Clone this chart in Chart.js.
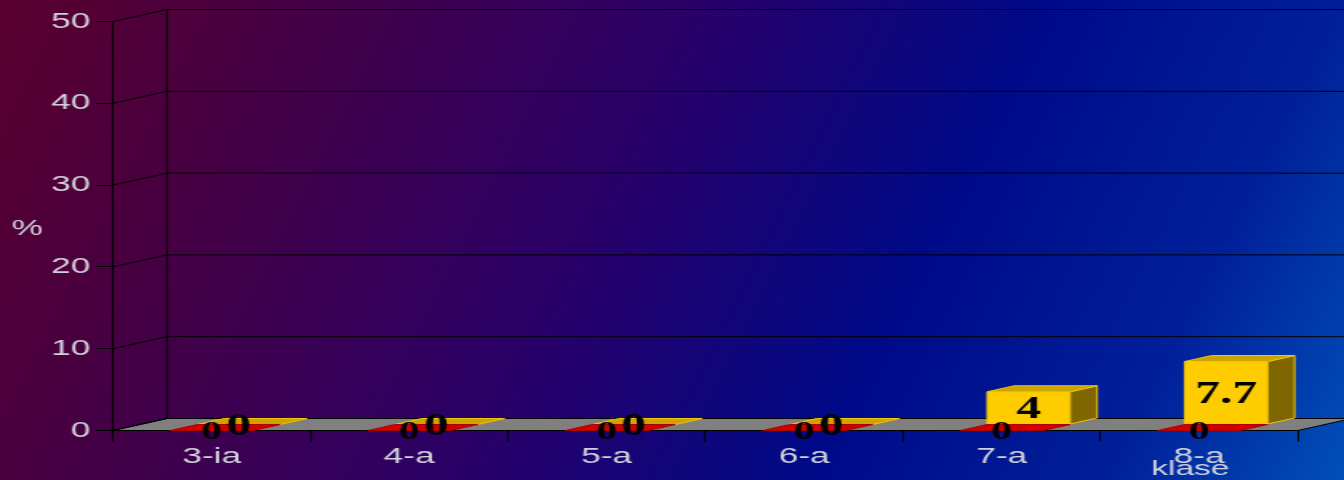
<!DOCTYPE html>
<html>
<head>
<meta charset="utf-8">
<script src="https://cdn.jsdelivr.net/npm/chart.js@4/dist/chart.umd.min.js"></script>
<style>
	html, body { margin: 0; padding: 0; overflow: hidden; background: #000; }
	#wrap { width: 840px; height: 480px; transform: scaleX(1.6); transform-origin: 0 0; }
</style>
</head>
<body>
<div id="wrap"><canvas id="chart" width="840" height="480"></canvas></div>
<script>
	// Data
	const categories = [ '3-ia', '4-a', '5-a', '6-a', '7-a', '8-a' ];
	const seriesFront = [ 0, 0, 0, 0, 0, 0 ];
	const seriesBack = [ 0, 0, 0, 0, 4, 7.7 ];
	const yMin = 0;
	const yMax = 50;
	const yStep = 10;
	const yTitle = '%';
	const xTitle = 'klase';

	// 3D depth of the whole plot (front plane -> back wall)
	const DX = 33.75;
	const DY = -12;

	const palettes = [
		{ front: '#ff0000', top: '#d00000', side: '#800000', edge: '#b00000', label: 26 },
		{ front: '#ffcc00', top: '#cca300', side: '#806600', edge: '#f0c800', label: 31 },
	];

	function poly( ctx, pts, fill, stroke ) {
		ctx.beginPath();
		ctx.moveTo( pts[ 0 ][ 0 ], pts[ 0 ][ 1 ] );
		for ( let i = 1; i < pts.length; i++ ) {
			ctx.lineTo( pts[ i ][ 0 ], pts[ i ][ 1 ] );
		}
		ctx.closePath();
		if ( fill ) {
			ctx.fillStyle = fill;
			ctx.fill();
		}
		if ( stroke ) {
			ctx.strokeStyle = stroke;
			ctx.stroke();
		}
	}

	// Background, back wall, side wall and floor
	const scenePlugin = {
		id: 'scene',
		beforeDraw( chart ) {
			const { ctx, chartArea: a, scales } = chart;
			const w = chart.width;
			const h = chart.height;
			ctx.save();
			const g = ctx.createLinearGradient( 0, 0, 902, 282 );
			g.addColorStop( 0, '#5a0030' );
			g.addColorStop( 0.15, '#4a003f' );
			g.addColorStop( 0.44, '#2a0068' );
			g.addColorStop( 0.66, '#000a88' );
			g.addColorStop( 0.85, '#00209a' );
			g.addColorStop( 1, '#0050b8' );
			ctx.fillStyle = g;
			ctx.fillRect( 0, 0, w, h );

			// floor
			ctx.lineWidth = 1;
			poly(
				ctx,
				[
					[ a.left, a.bottom ],
					[ a.right, a.bottom ],
					[ a.right + DX, a.bottom + DY ],
					[ a.left + DX, a.bottom + DY ],
				],
				'#808080',
				'#000'
			);

			// back wall grid + side wall diagonals
			const y = scales.y;
			ctx.strokeStyle = '#000';
			ctx.beginPath();
			y.ticks.forEach( ( t ) => {
				const py = y.getPixelForValue( t.value );
				ctx.moveTo( a.left, py );
				ctx.lineTo( a.left + DX, py + DY );
				ctx.lineTo( a.right + DX, py + DY );
			} );
			ctx.moveTo( a.left + DX, a.top + DY );
			ctx.lineTo( a.left + DX, a.bottom + DY );
			ctx.stroke();
			ctx.restore();
		},
		afterDatasetsDraw( chart ) {
			const { ctx } = chart;
			ctx.save();
			ctx.lineWidth = 1;
			// back row first, then front row
			for ( let d = chart.data.datasets.length - 1; d >= 0; d-- ) {
				const meta = chart.getDatasetMeta( d );
				const col = palettes[ d ];
				const ox = ( d * DX ) / 2;
				const oy = ( d * DY ) / 2;
				const hx = DX / 2;
				const hy = DY / 2;
				meta.data.forEach( ( bar ) => {
					const p = bar.getProps( [ 'x', 'y', 'base', 'width' ], true );
					const x0 = p.x - p.width / 2 + ox;
					const x1 = p.x + p.width / 2 + ox;
					const yt = p.y + oy;
					const yb = p.base + oy;
					if ( yb - yt > 0.5 ) {
						poly( ctx, [ [ x0, yt ], [ x1, yt ], [ x1, yb ], [ x0, yb ] ], col.front, col.edge );
						poly( ctx, [ [ x1, yt ], [ x1 + hx, yt + hy ], [ x1 + hx, yb + hy ], [ x1, yb ] ], col.side, col.edge );
					}
					poly( ctx, [ [ x0, yt ], [ x1, yt ], [ x1 + hx, yt + hy ], [ x0 + hx, yt + hy ] ], col.top, col.edge );
				} );
			}
			ctx.restore();
		},
		afterDraw( chart ) {
			const { ctx, chartArea: a } = chart;
			ctx.save();
			// value labels
			ctx.fillStyle = '#000';
			ctx.textAlign = 'center';
			ctx.textBaseline = 'middle';
			for ( let d = chart.data.datasets.length - 1; d >= 0; d-- ) {
				const meta = chart.getDatasetMeta( d );
				const values = chart.data.datasets[ d ].data;
				ctx.font = 'bold ' + palettes[ d ].label + 'px "Liberation Serif", serif';
				meta.data.forEach( ( bar, i ) => {
					const p = bar.getProps( [ 'x', 'y', 'base' ], true );
					const lx = p.x + ( d * DX ) / 2;
					const ly = ( p.y + p.base ) / 2 + ( d * DY ) / 2 + 2;
					ctx.fillText( String( values[ i ] ), lx, ly );
				} );
			}
			// axis titles
			ctx.font = '22px "Liberation Sans", Arial, sans-serif';
			ctx.fillStyle = '#d2d2da';
			ctx.fillText( yTitle, 17, ( a.top + a.bottom ) / 2 + 3 );
			ctx.font = '21px "Liberation Sans", Arial, sans-serif';
			ctx.fillText( xTitle, 744, 469 );
			ctx.restore();
		},
	};

	new Chart( document.getElementById( 'chart' ), {
		type: 'bar',
		data: {
			labels: categories,
			datasets: [
				{
					label: 'front',
					data: seriesFront,
					backgroundColor: 'transparent',
					borderWidth: 0,
				},
				{
					label: 'back',
					data: seriesBack,
					backgroundColor: 'transparent',
					borderWidth: 0,
				},
			],
		},
		options: {
			responsive: false,
			animation: false,
			devicePixelRatio: 1,
			layout: {
				padding: { left: 0, right: 28.8, top: 21.5, bottom: 0 },
			},
			datasets: {
				bar: {
					grouped: false,
					categoryPercentage: 1,
					barPercentage: 0.42,
				},
			},
			plugins: {
				legend: { display: false },
				tooltip: { enabled: false },
			},
			scales: {
				x: {
					afterFit( scale ) {
						scale.height = 49.5;
					},
					grid: {
						drawOnChartArea: false,
						color: '#000',
						tickLength: 11,
					},
					border: { color: '#000' },
					ticks: {
						color: '#d2d2da',
						padding: 2,
						font: { family: '"Liberation Sans", Arial, sans-serif', size: 22 },
					},
				},
				y: {
					min: yMin,
					max: yMax,
					afterFit( scale ) {
						scale.width = 70.6;
					},
					grid: {
						drawOnChartArea: false,
						color: '#000',
						tickLength: 10.6,
					},
					border: { color: '#000' },
					ticks: {
						stepSize: yStep,
						color: '#d2d2da',
						padding: 3.5,
						font: { family: '"Liberation Sans", Arial, sans-serif', size: 22 },
					},
				},
			},
		},
		plugins: [ scenePlugin ],
	} );
</script>
</body>
</html>
